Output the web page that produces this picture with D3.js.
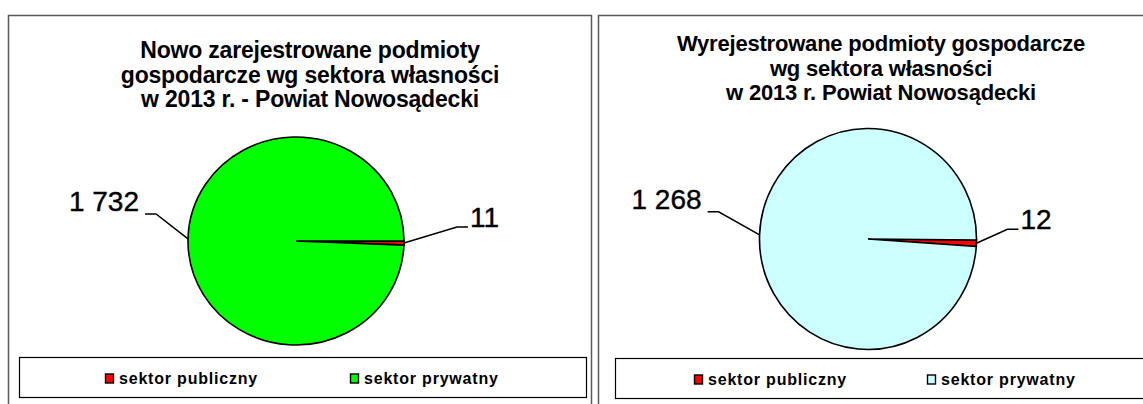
<!DOCTYPE html>
<html>
<head>
<meta charset="utf-8">
<script src="https://cdn.jsdelivr.net/npm/d3@7"></script>
<style>
	body { margin: 0; background: #ffffff; }
	svg { display: block; font-family: "Liberation Sans", Arial, sans-serif; }
</style>
</head>
<body>
<div id="chart"></div>
<script>
/* two pie charts: registered / deregistered by ownership sector */

var categories = ["sektor publiczny", "sektor prywatny"];
var newValues = [11, 1732];
var removedValues = [12, 1268];

var newTitle = ["Nowo zarejestrowane podmioty", "gospodarcze wg sektora własności", "w 2013 r. - Powiat Nowosądecki"];
var removedTitle = ["Wyrejestrowane podmioty gospodarcze", "wg sektora własności", "w 2013 r. Powiat Nowosądecki"];

var newColors = ["#ff0000", "#00ff00"];
var removedColors = ["#ff0000", "#ccffff"];

var pl = d3.formatLocale({ decimal: ",", thousands: " ", grouping: [3], currency: ["", " zł"] });
var fmt = pl.format(",d");

var W = 1143, H = 404;

var panels = [
	{
		values: newValues, colors: newColors, title: newTitle,
		box: [8.5, 15.5, 583, 420],
		titleX: 310, titleY: 58, titleSize: 23,
		cx: 296, cy: 241, rx: 108, ry: 104, start: 90,
		legendBox: [19.5, 357.5, 567, 40],
		legendX: [105, 350],
		labelOffset: [[53, -16], [-32, -25]]
	},
	{
		values: removedValues, colors: removedColors, title: removedTitle,
		box: [598.5, 15.5, 600, 420],
		titleX: 881, titleY: 51, titleSize: 22,
		cx: 868, cy: 239, rx: 108.5, ry: 110.5, start: 90.5,
		legendBox: [615.5, 358.5, 600, 40],
		legendX: [694, 927],
		labelOffset: [[31, -14], [-41, -23]]
	}
];

var svg = d3.select("#chart").append("svg")
	.attr("width", W)
	.attr("height", H);

svg.append("rect")
	.attr("width", W)
	.attr("height", H)
	.attr("fill", "#ffffff");

panels.forEach(function(p) {
	var g = svg.append("g");

	// frame
	g.append("rect")
		.attr("x", p.box[0])
		.attr("y", p.box[1])
		.attr("width", p.box[2])
		.attr("height", p.box[3])
		.attr("fill", "#ffffff")
		.attr("stroke", "#5a5a5a")
		.attr("stroke-width", 1.5);

	// title
	var title = g.append("text")
		.attr("x", p.titleX)
		.attr("y", p.titleY)
		.attr("text-anchor", "middle")
		.attr("font-weight", "bold")
		.attr("font-size", p.titleSize + "px")
		.attr("letter-spacing", "-0.2px")
		.attr("fill", "#000000");
	title.selectAll("tspan")
		.data(p.title)
		.enter().append("tspan")
		.attr("x", p.titleX)
		.attr("dy", function(d, i) { return i == 0 ? 0 : 24.5; })
		.text(function(d) { return d; });

	// pie
	var start = p.start * Math.PI / 180;
	var pie = d3.pie()
		.sort(null)
		.startAngle(start)
		.endAngle(start + 2 * Math.PI);
	var arcs = pie(p.values);
	var sx = p.rx / p.ry;
	var arc = d3.arc().innerRadius(0).outerRadius(p.ry);

	var pg = g.append("g")
		.attr("transform", "translate(" + p.cx + "," + p.cy + ") scale(" + sx + ",1)");
	pg.selectAll("path")
		.data(arcs)
		.enter().append("path")
		.attr("d", arc)
		.attr("fill", function(d, i) { return p.colors[i]; })
		.attr("stroke", "#000000")
		.attr("stroke-width", 1.6)
		.attr("vector-effect", "non-scaling-stroke");

	// labels with leader lines
	arcs.forEach(function(d, i) {
		var a = (d.startAngle + d.endAngle) / 2;
		var x0 = p.cx + Math.sin(a) * p.ry * sx;
		var y0 = p.cy - Math.cos(a) * p.ry;
		var off = p.labelOffset[i];
		var x1 = x0 + off[0];
		var y1 = y0 + off[1];
		var dir = off[0] > 0 ? 1 : -1;
		var x2 = x1 + dir * 11;

		g.append("polyline")
			.attr("points", [[x0, y0], [x1, y1], [x2, y1]].join(" "))
			.attr("fill", "none")
			.attr("stroke", "#000000")
			.attr("stroke-width", 1.5);

		g.append("text")
			.attr("x", x2 + (dir > 0 ? 2 : -6))
			.attr("y", y1 + (dir > 0 ? 0 : -3))
			.attr("text-anchor", dir > 0 ? "start" : "end")
			.attr("font-size", "28px")
			.attr("stroke", "#000000")
			.attr("stroke-width", 0.4)
			.attr("fill", "#000000")
			.text(fmt(d.data));
	});

	// legend
	g.append("rect")
		.attr("x", p.legendBox[0])
		.attr("y", p.legendBox[1])
		.attr("width", p.legendBox[2])
		.attr("height", p.legendBox[3])
		.attr("fill", "#ffffff")
		.attr("stroke", "#000000")
		.attr("stroke-width", 1.2);

	var ly = p.legendBox[1] + 26;
	categories.forEach(function(c, i) {
		g.append("rect")
			.attr("x", p.legendX[i] + 0.5)
			.attr("y", ly - 9.5)
			.attr("width", 8)
			.attr("height", 9)
			.attr("fill", p.colors[i])
			.attr("stroke", "#000000")
			.attr("stroke-width", 1.4);
		g.append("text")
			.attr("x", p.legendX[i] + 14)
			.attr("y", ly)
			.attr("font-size", "16px")
			.attr("font-weight", "bold")
			.attr("letter-spacing", "0.8px")
			.attr("fill", "#000000")
			.text(c);
	});
});
</script>
</body>
</html>
